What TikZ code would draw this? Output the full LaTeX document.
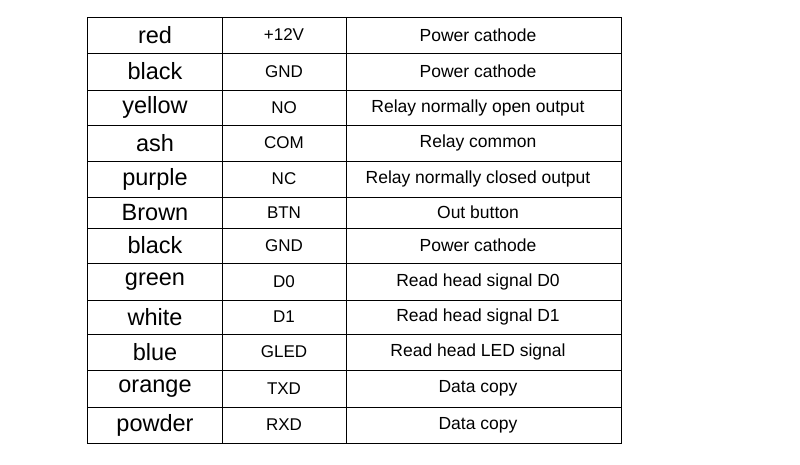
\documentclass[tikz,border=0pt]{standalone}
\usepackage{fontspec}
\setmainfont{Liberation Sans}
\usepackage{tikz}
\usetikzlibrary{positioning}

\begin{document}
\begin{tikzpicture}[x=1pt,y=-1pt,
    grid/.style={line width=0.9pt},
    colour/.style={font=\fontsize{23.5}{26}\selectfont},
    pin/.style={font=\fontsize{17}{19}\selectfont},
    use/.style={font=\fontsize{17.5}{19}\selectfont}]
    \useasboundingbox (0,0) rectangle (800,464);
    % table frame and columns
    \draw[grid] (87,17) rectangle (621,443);
    \draw[grid] (222,17) -- (222,443);
    \draw[grid] (346,17) -- (346,443);
    \foreach \y in {53,90,125,161,197,228,263,300,334,370,407} {
        \draw[grid] (87,\y) -- (621,\y);
    }
    % rows
    \foreach \top/\bot/\wire/\sig/\desc [count=\i] in {
        17/53/red/+12V/Power cathode,
        53/90/black/GND/Power cathode,
        90/125/yellow/NO/Relay normally open output,
        125/161/ash/COM/Relay common,
        161/197/purple/NC/Relay normally closed output,
        197/228/Brown/BTN/Out button,
        228/263/black/GND/Power cathode,
        263/300/green/D0/Read head signal D0,
        300/334/white/D1/Read head signal D1,
        334/370/blue/GLED/Read head LED signal,
        370/407/orange/TXD/Data copy,
        407/443/powder/RXD/Data copy} {
        \node[colour] (wire\i) at (155,{(\top+\bot)/2}) {\wire};
        \node[pin] (sig\i) at (284,{(\top+\bot)/2}) {\sig};
        \node[use] (desc\i) at (478,{(\top+\bot)/2}) {\desc};
    }
\end{tikzpicture}
\end{document}
